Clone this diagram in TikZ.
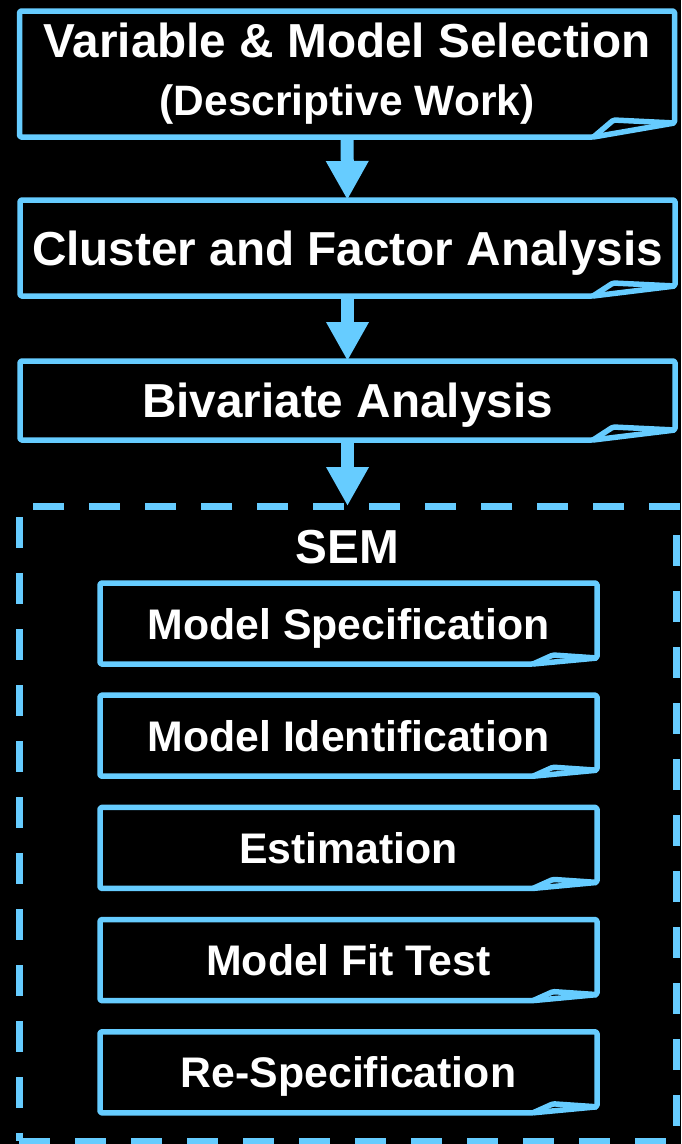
\documentclass[tikz,border=0pt]{standalone}
\usepackage{fontspec}
\setmainfont{Liberation Sans}
\usetikzlibrary{arrows.meta,positioning}

\definecolor{sky}{RGB}{102,204,255}

% box outline with a turned-up corner at the bottom right
\newcommand{\foldframe}[3]{%
 \draw[outline] (#1.north west) -- (#1.north east) -- ([yshift=#3]#1.south east)
   -- ([xshift=-#2]#1.south east) -- (#1.south west) -- cycle;
 \draw[outline] ([xshift=-#2]#1.south east) -- ([xshift=-#2+20pt,yshift=#3+3pt]#1.south east)
   -- ([yshift=#3]#1.south east);
}

\begin{document}
\begin{tikzpicture}[x=1pt, y=-1pt,
 stepbox/.style={shape=rectangle, inner sep=0pt, outer sep=0pt, minimum width=655pt,
   text=white, font=\bfseries\fontsize{47.7}{58}\selectfont, align=center},
 oneline/.style={stepbox, text depth=0pt},
 substep/.style={oneline, minimum width=497pt, minimum height=81pt,
   font=\bfseries\fontsize{42.8}{50}\selectfont},
 flow/.style={draw=sky, line width=13pt, -{Triangle[width=40pt,length=39pt]}},
 outline/.style={draw=sky, line width=5.5pt, line join=round, rounded corners=1.5pt}
]
\path[use as bounding box, fill=black] (0,0) rectangle (681,1144);

% main steps
\node (select) [stepbox, minimum height=126pt] at (347,74)
  {Variable \& Model Selection\\{\fontsize{42.5}{50}\selectfont(Descriptive Work)}};
\node (cluster) [oneline, minimum height=96pt] at (347.5,248) {Cluster and Factor Analysis};
\node (bivar) [oneline, minimum height=79pt] at (347.5,400.5) {Bivariate Analysis};
\foldframe{select}{81pt}{14pt}
\foldframe{cluster}{82pt}{10pt}
\foldframe{bivar}{82pt}{10pt}

% SEM frame
\node (sem) [draw=sky, line width=7pt, dash pattern=on 31pt off 25pt,
  minimum width=657pt, minimum height=635pt, inner sep=0pt, outer sep=0pt] at (347.5,823.5) {};
\node (semtitle) [oneline, minimum width=0pt] at (347.5,547) {SEM};

\foreach \lbl [count=\i] in {Model Specification, Model Identification, Estimation,
  Model Fit Test, Re-Specification} {
 \node (sub\i) [substep] at (348.5, {623.5+112.2*(\i-1)}) {\lbl};
 \foldframe{sub\i}{64pt}{6pt}
}

\draw[flow] (select) -- (cluster);
\draw[flow] (cluster) -- (bivar);
\draw[flow] (bivar) -- (sem);

\end{tikzpicture}
\end{document}
